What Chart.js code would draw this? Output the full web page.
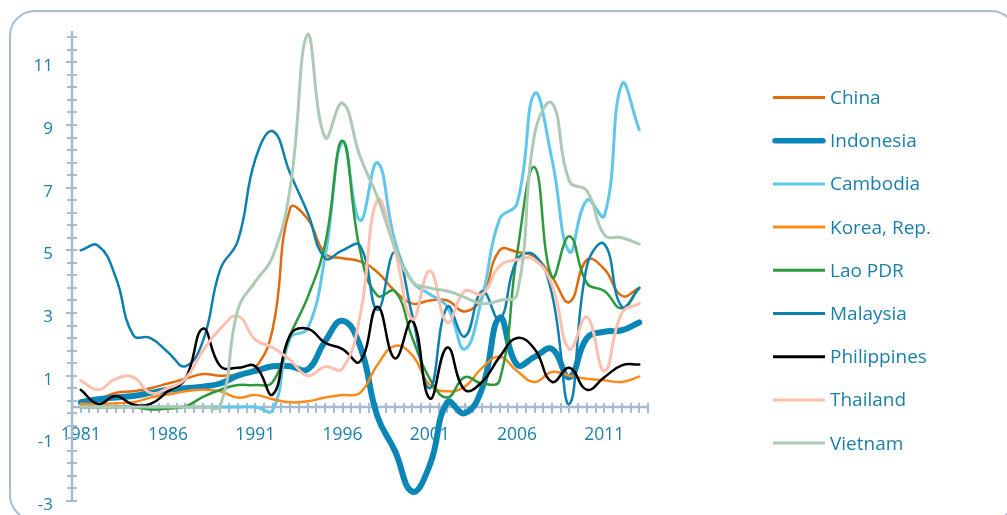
<!DOCTYPE html>
<html><head><meta charset="utf-8">
<script src="https://cdn.jsdelivr.net/npm/chart.js@4.4.1/dist/chart.umd.min.js"></script>
<style>
html,body{margin:0;padding:0;background:#fff;width:1007px;height:515px;overflow:hidden}
#frame{position:absolute;left:9px;top:10px;width:1004px;height:507px;border:2px solid #a7bdd7;border-radius:26px;}
canvas{position:absolute;left:0;top:0}
</style></head><body>
<div id="frame"></div>
<canvas id="c" width="1007" height="515"></canvas>
<script>
const years = [1981,1982,1983,1984,1985,1986,1987,1988,1989,1990,1991,1992,1993,1994,1995,1996,1997,1998,1999,2000,2001,2002,2003,2004,2005,2006,2007,2008,2009,2010,2011,2012,2013];
const seriesNames = ["China","Indonesia","Cambodia","Korea, Rep.","Lao PDR","Malaysia","Philippines","Thailand","Vietnam"];
const china      = [0.15,0.25,0.45,0.5,0.6,0.75,0.9,1.05,1.0,1.05,1.25,2.5,6.35,6.0,4.9,4.75,4.65,4.3,3.7,3.3,3.4,3.4,3.05,3.5,5.0,4.95,4.8,4.15,3.35,4.7,4.4,3.55,3.8];
const indonesia  = [0.15,0.25,0.3,0.35,0.45,0.55,0.6,0.65,0.75,1.0,1.15,1.3,1.3,1.2,2.1,2.75,1.95,-0.3,-1.4,-2.7,-1.85,0.15,-0.2,0.6,2.85,1.35,1.6,1.85,0.95,2.2,2.4,2.45,2.7];
const cambodia   = [0,0,0,0,0,0,0,0,0,0,0,-0.1,2.2,2.5,4.8,8.45,5.95,7.8,5.3,4.0,3.6,3.2,1.85,3.5,6.0,6.5,10.0,7.9,4.95,6.6,6.1,10.3,8.85];
const korea      = [0.1,0.1,0.12,0.15,0.3,0.4,0.5,0.55,0.5,0.3,0.38,0.25,0.15,0.18,0.3,0.38,0.45,1.35,1.95,1.65,0.7,0.5,0.65,1.25,1.6,1.15,0.8,1.12,1.0,0.9,0.85,0.8,0.97];
const lao        = [0,0,0,0,-0.08,-0.05,0.02,0.32,0.55,0.7,0.7,0.8,2.3,3.5,5.2,8.5,5.0,3.55,3.7,2.2,0.9,0.3,0.95,0.75,0.85,4.9,7.65,4.15,5.45,3.95,3.7,3.15,3.8];
const malaysia   = [5.0,5.15,4.15,2.3,2.2,1.75,1.3,2.1,4.4,5.3,7.9,8.8,7.45,6.2,4.75,5.0,5.15,3.1,4.95,2.9,0.6,3.2,2.25,3.7,2.8,4.7,4.85,3.6,0.1,4.5,5.2,3.2,3.8];
const philippines= [0.55,0.1,0.35,0.08,0.1,0.5,0.9,2.5,1.3,1.25,1.3,0.4,2.3,2.5,2.05,1.85,1.45,3.2,1.55,2.75,0.27,1.9,0.55,0.8,1.6,2.2,1.85,0.8,1.25,0.55,0.95,1.33,1.36];
const thailand   = [0.85,0.55,0.9,0.95,0.45,0.6,0.9,1.8,2.5,2.9,2.15,1.9,1.5,1.0,1.28,1.22,2.9,6.6,5.0,2.8,4.35,2.7,3.7,3.6,4.5,4.7,4.7,3.9,1.85,2.87,1.15,3.0,3.3];
const vietnam    = [0,0,0,0,0,0,0,0,0.05,3.1,4.0,4.8,7.0,11.9,8.6,9.7,8.0,6.7,5.1,4.0,3.8,3.7,3.5,3.3,3.4,3.6,8.7,9.7,7.2,6.9,5.5,5.4,5.2];
const yTickLabels = [-3,-1,1,3,5,7,9,11];
const xTickLabels = [1981,1986,1991,1996,2001,2006,2011];

const allValues = [china,indonesia,cambodia,korea,lao,malaysia,philippines,thailand,vietnam];
const colors = ["#e06c0e","#0a87b6","#5fc6ec","#fb8a1c","#2c9a3c","#0c80ae","#000000","#fcc0b0","#aecab4"];
const widths = [2.5,6,3,2.5,2.5,2.5,2.5,3,3];
const axisColor = "#a6bbd3";
const textColor = "#1b7fab";
const FONT = "'Open Sans', sans-serif";

const datasets = allValues.map((vals,i)=>({
  label: seriesNames[i],
  data: vals.map((v,j)=>({x: years[j], y: v})),
  borderColor: colors[i],
  backgroundColor: colors[i],
  borderWidth: widths[i],
  pointRadius: 0,
  tension: 0.45,
  fill: false,
  borderCapStyle: 'round',
  borderJoinStyle: 'round',
  order: allValues.length - i,
  clip: false
}));

const axesPlugin = {
  id: 'axesPlugin',
  beforeDatasetsDraw(chart){
    const ctx = chart.ctx, xs = chart.scales.x, ys = chart.scales.y;
    const y0 = ys.getPixelForValue(0);
    const xa = chart.chartArea.left;
    ctx.save();
    ctx.strokeStyle = axisColor;
    ctx.lineWidth = 2.5;
    ctx.beginPath();
    ctx.moveTo(xa, ys.getPixelForValue(ys.max));
    ctx.lineTo(xa, ys.getPixelForValue(ys.min));
    ctx.stroke();
    ctx.lineWidth = 2;
    ctx.beginPath();
    ys.ticks.forEach(t=>{
      const p = Math.round(ys.getPixelForValue(t.value));
      const major = yTickLabels.some(v=>Math.abs(v-t.value)<1e-6);
      ctx.moveTo(xa-(major?6:5), p); ctx.lineTo(xa+5, p);
    });
    ctx.stroke();
    ctx.lineWidth = 2.5;
    ctx.beginPath();
    ctx.moveTo(xs.getPixelForValue(xs.min), y0);
    ctx.lineTo(xs.getPixelForValue(xs.max), y0);
    ctx.stroke();
    ctx.lineWidth = 2;
    ctx.beginPath();
    xs.ticks.forEach(t=>{
      const p = Math.round(xs.getPixelForValue(t.value));
      ctx.moveTo(p, y0-4); ctx.lineTo(p, y0+6);
    });
    ctx.stroke();
    ctx.restore();
  },
  afterDraw(chart){
    const ctx = chart.ctx;
    ctx.save();
    chart.data.datasets.forEach((ds,i)=>{
      const y = 97.5 + i*43.2;
      ctx.strokeStyle = ds.borderColor;
      ctx.lineWidth = i===1 ? 5.5 : 3;
      ctx.lineCap = i===1 ? 'round' : 'butt';
      ctx.beginPath(); ctx.moveTo(i===1?775:773, y); ctx.lineTo(i===1?823:825, y); ctx.stroke();
      ctx.fillStyle = textColor;
      ctx.font = "19px " + FONT;
      ctx.textBaseline = 'middle';
      ctx.textAlign = 'left';
      ctx.fillText(ds.label, 830, y+1);
    });
    ctx.restore();
  }
};

new Chart(document.getElementById('c'), {
  type: 'line',
  data: { datasets },
  options: {
    responsive: false,
    animation: false,
    devicePixelRatio: 1,
    layout: { padding: { left: 0, top: 31, right: 359, bottom: 14 } },
    plugins: { legend: { display: false }, tooltip: { enabled: false } },
    scales: {
      x: {
        type: 'linear',
        min: 1980.5, max: 2013.5,
        position: { y: 0 },
        grid: { display: false, drawTicks: false },
        border: { display: false },
        afterBuildTicks(scale){
          const t = [];
          for (let k=0; k<=66; k++) t.push({value: 1980.5 + k*0.5});
          scale.ticks = t;
        },
        afterFit(scale){ scale.height = 0; scale.paddingLeft = 0; scale.paddingRight = 0; scale.paddingTop = 0; scale.paddingBottom = 0; },
        ticks: {
          autoSkip: false, maxRotation: 0, padding: 18,
          color: textColor, font: { family: FONT, size: 17.5 },
          callback(v){ return xTickLabels.includes(v) ? String(v) : ''; }
        }
      },
      y: {
        type: 'linear',
        min: -3, max: 12,
        grid: { display: false, drawTicks: false },
        border: { display: false },
        afterBuildTicks(scale){
          const t = [];
          for (let k=0; k<=37; k++) t.push({value: Math.round((-3 + k*0.4)*10)/10});
          scale.ticks = t;
        },
        afterFit(scale){ scale.width = 72; scale.paddingTop = 0; scale.paddingBottom = 0; },
        ticks: {
          autoSkip: false, padding: 19, labelOffset: 4,
          color: textColor, font: { family: FONT, size: 17 },
          callback(v){ return yTickLabels.some(l=>Math.abs(l-v)<1e-6) ? String(v) : ''; }
        }
      }
    }
  },
  plugins: [axesPlugin]
});
</script>
</body></html>
